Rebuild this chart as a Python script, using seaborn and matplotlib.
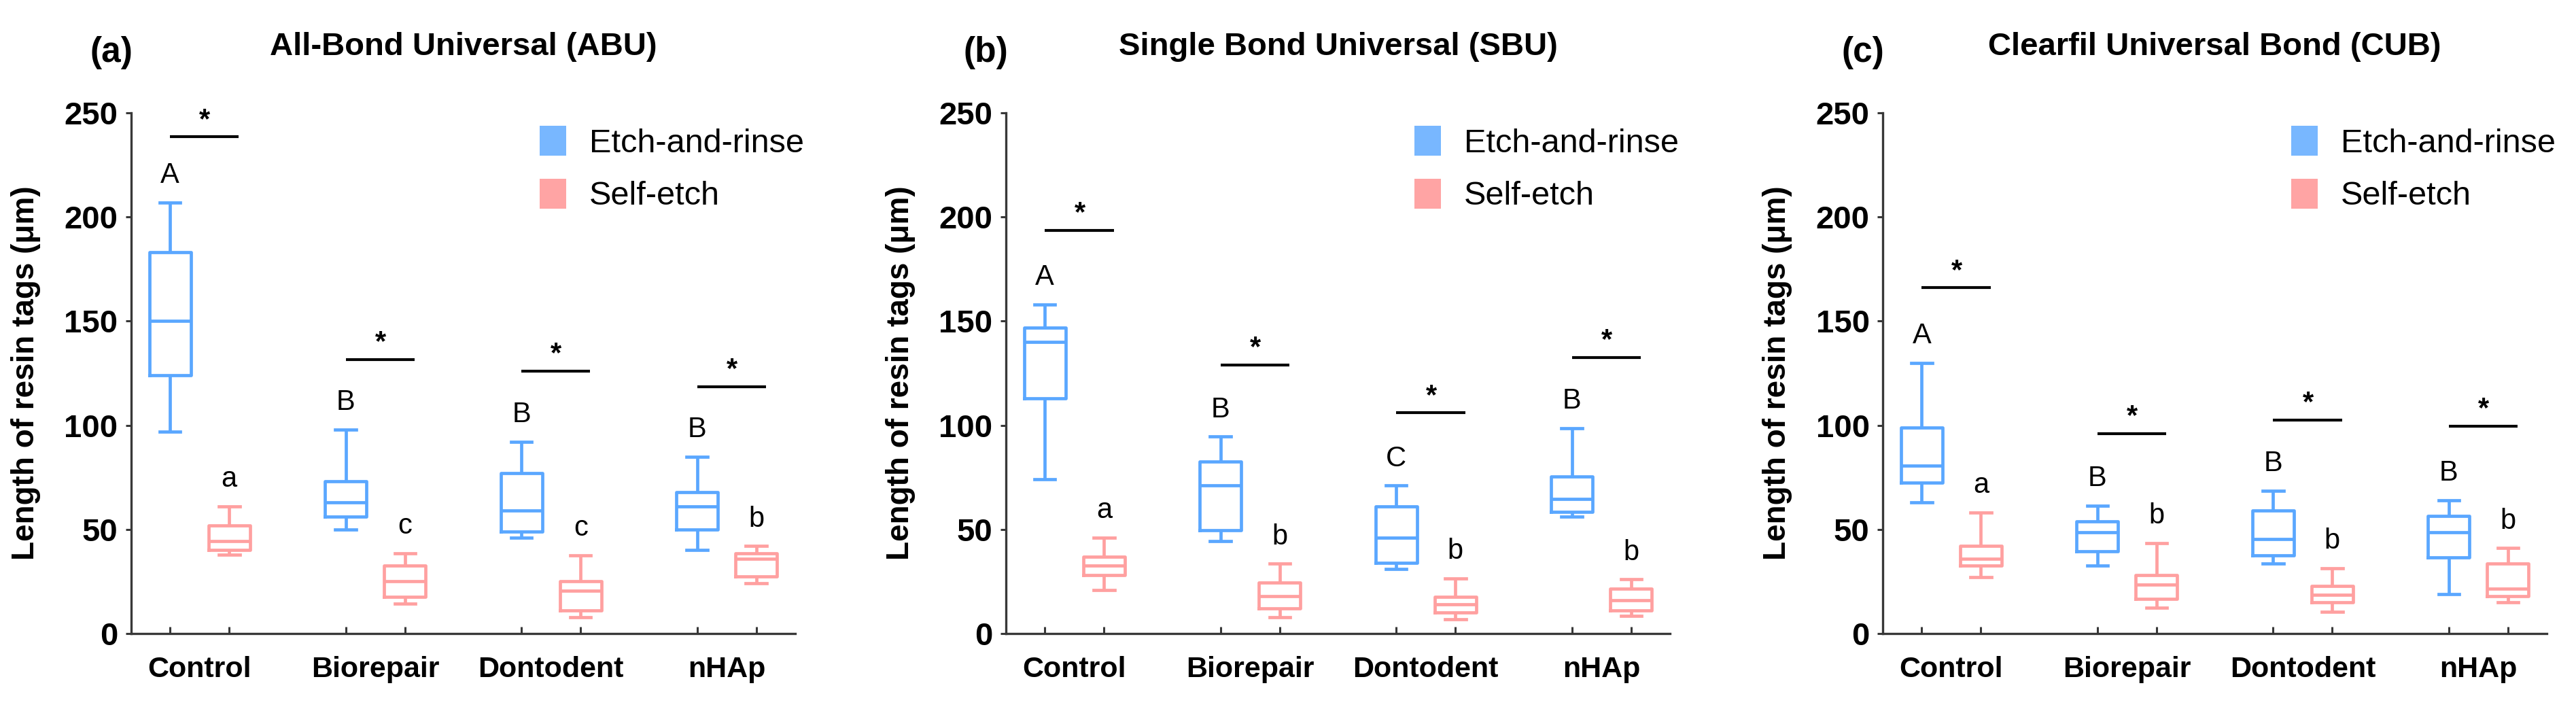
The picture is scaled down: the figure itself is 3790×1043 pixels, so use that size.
import numpy as np
import pandas as pd
import matplotlib
matplotlib.use('Agg')
import matplotlib.pyplot as plt
from matplotlib.patches import Patch
import seaborn as sns

groups = ['Control', 'Biorepair', 'Dontodent', 'nHAp']
methods = ['Etch-and-rinse', 'Self-etch']

# five-number summaries: [min, Q1, median, Q3, max]
abu_er = [[97, 124, 150, 183, 207], [50, 56, 63, 73, 98], [46, 49, 59, 77, 92], [40, 50, 61, 68, 85]]
abu_se = [[38, 40, 44.5, 52, 61], [14.5, 17.5, 25, 32.5, 38.5], [8, 11, 20.5, 25, 37.5], [24, 27.5, 36, 38.5, 42]]
sbu_er = [[74, 113, 140, 147, 158], [44.5, 49.5, 71, 82.5, 94.5], [31, 34, 46, 61, 71], [56, 58.5, 64.5, 75.5, 98.5]]
sbu_se = [[21, 28, 32.5, 37, 46], [8, 12, 18, 24.5, 33.5], [7, 10, 14, 17.5, 26.5], [8.5, 11, 16, 21.5, 26]]
cub_er = [[63, 72.5, 80.5, 99, 130], [32.5, 39.5, 48.5, 54, 61.5], [33.5, 37.5, 45.5, 59, 68.5], [19, 36.5, 48.5, 56.5, 64]]
cub_se = [[27, 32.5, 36, 42, 58], [12.5, 16.5, 23.5, 28, 43.5], [10.5, 15, 18.5, 23, 31.5], [15, 18, 21.5, 33.5, 41]]

abu_sig = [238.5, 131.5, 126, 118.5]
sbu_sig = [193.5, 129, 106, 132.5]
cub_sig = [166, 96, 102.5, 99.5]

abu_letters = [['A', 'B', 'B', 'B'], ['a', 'c', 'c', 'b']]
sbu_letters = [['A', 'B', 'C', 'B'], ['a', 'b', 'b', 'b']]
cub_letters = [['A', 'B', 'B', 'B'], ['a', 'b', 'b', 'b']]

titles = ['All-Bond Universal (ABU)', 'Single Bond Universal (SBU)', 'Clearfil Universal Bond (CUB)']
panel_tags = ['(a)', '(b)', '(c)']

line_colors = ['#5aa7ff', '#ffa0a0']
patch_colors = ['#78b7ff', '#ffa4a4']

plt.rcParams['font.family'] = ['Liberation Sans', 'DejaVu Sans']
axis_color = '#383838'


def make_df(er, se):
    rows = []
    for g, vals in zip(groups, er):
        rows += [(g, methods[0], v) for v in vals]
    for g, vals in zip(groups, se):
        rows += [(g, methods[1], v) for v in vals]
    return pd.DataFrame(rows, columns=['Group', 'Method', 'Value'])


panels = [
    (abu_er, abu_se, abu_sig, abu_letters),
    (sbu_er, sbu_se, sbu_sig, sbu_letters),
    (cub_er, cub_se, cub_sig, cub_letters),
]

fig = plt.figure(figsize=(37.9, 10.43), dpi=100)
lefts = [0.0509, 0.3905, 0.7309]
width = 0.674
offset = width / 4

for k, (er, se, sig, letters) in enumerate(panels):
    ax = fig.add_axes([lefts[k], 0.1064, 0.2578, 0.7344])
    df = make_df(er, se)
    sns.boxplot(data=df, x='Group', y='Value', hue='Method', order=groups,
                hue_order=methods, palette=line_colors, fill=False,
                width=width, gap=0.3, whis=(0, 100), linewidth=3.4,
                legend=False, ax=ax)

    ax.set_xlim(-0.39, 3.39)
    ax.set_ylim(0, 250)
    ax.set_yticks([0, 50, 100, 150, 200, 250])
    ax.set_xticks(range(len(groups)))
    ax.set_xticklabels(groups, fontsize=31, fontweight='bold')
    ax.set_xticks([i + s * offset for i in range(len(groups)) for s in (-1, 1)], minor=True)
    ax.tick_params(axis='x', which='major', length=0, pad=24)
    ax.tick_params(axis='x', which='minor', direction='in', length=7, width=2.2, color=axis_color)
    ax.tick_params(axis='y', direction='out', length=6, width=2.2, color=axis_color,
                   labelsize=34, pad=8)
    for lab in ax.get_yticklabels():
        lab.set_fontweight('bold')
    ax.set_xlabel('')
    ax.set_ylabel('Length of resin tags (μm)', fontsize=33, fontweight='bold')
    ax.yaxis.set_label_coords(-0.136, 0.5)

    for side in ['top', 'right']:
        ax.spines[side].set_visible(False)
    for side in ['left', 'bottom']:
        ax.spines[side].set_linewidth(2.4)
        ax.spines[side].set_color(axis_color)

    # letters above whiskers
    for i in range(len(groups)):
        ax.text(i - offset, er[i][4] + 13, letters[0][i], ha='center', va='center', fontsize=30)
        ax.text(i + offset, se[i][4] + 13, letters[1][i], ha='center', va='center', fontsize=30)
        # significance bar
        ax.plot([i - offset, i + offset + 0.055], [sig[i], sig[i]], color='black',
                lw=3, solid_capstyle='butt')
        ax.text(i + 0.03, sig[i] + 1.5, '*', ha='center', va='bottom', fontsize=30,
                fontweight='bold')

    ax.set_title(titles[k], fontsize=34, fontweight='bold', y=1.1)
    ax.text(-0.03, 1.115, panel_tags[k], transform=ax.transAxes, ha='center', va='center',
            fontsize=37, fontweight='bold')

    handles = [Patch(facecolor=c, edgecolor='none') for c in patch_colors]
    ax.legend(handles, methods, loc='upper left', bbox_to_anchor=(0.595, 1.0), frameon=False,
              fontsize=35, handlelength=0.8, handleheight=1.0, handletextpad=0.7,
              labelspacing=0.6, borderaxespad=0)

fig.savefig('out.png', dpi=100)
